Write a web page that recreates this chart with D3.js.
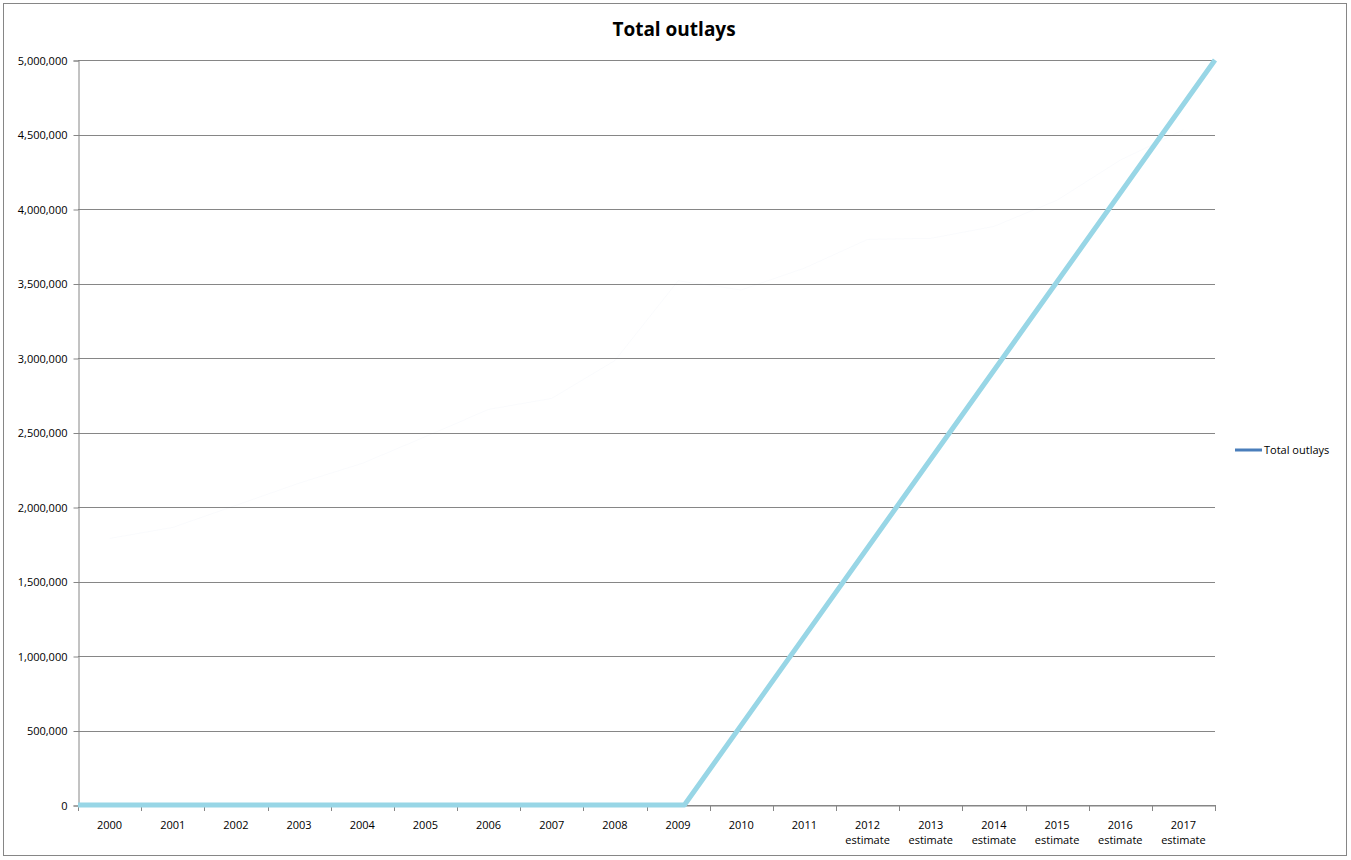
<!DOCTYPE html>
<html><head><meta charset="utf-8">
<script src="https://cdn.jsdelivr.net/npm/d3@7"></script>
<style>
body{margin:0;background:#fff;}
text{font-family:"Open Sans","DejaVu Sans",sans-serif;}
</style></head>
<body><svg id="c" width="1351" height="860"></svg>
<script>
const categories = ["2000","2001","2002","2003","2004","2005","2006","2007","2008","2009","2010","2011","2012 estimate","2013 estimate","2014 estimate","2015 estimate","2016 estimate","2017 estimate"];
const outlays = [1789000,1863000,2011000,2160000,2293000,2472000,2655000,2729000,2983000,3518000,3457000,3603000,3796000,3803000,3883000,4059000,4328000,4531000];
const overlayPos = [0, 9.6, 18];
const overlayVal = [0, 0, 5000000];
const yTicks = [0,500000,1000000,1500000,2000000,2500000,3000000,3500000,4000000,4500000,5000000];
const title = "Total outlays";
const seriesName = "Total outlays";

const svg = d3.select("#c");
const L=78,R=1215,T=60,B=805;
svg.append("rect").attr("x",3.5).attr("y",3.5).attr("width",1343).attr("height",852).attr("fill","#fff").attr("stroke","#868686");
svg.append("text").attr("x",674).attr("y",36).attr("text-anchor","middle").attr("font-size",19).attr("font-weight","bold").text(title);

const x = d3.scaleBand().domain(categories).range([L,R]);
const xu = d3.scaleLinear().domain([0,categories.length]).range([L,R]);
const y = d3.scaleLinear().domain([0,5000000]).range([B,T]);

// gridlines
svg.append("g").selectAll("line").data(yTicks).join("line")
 .attr("x1",L).attr("x2",R).attr("y1",d=>Math.round(y(d))+0.5).attr("y2",d=>Math.round(y(d))+0.5)
 .attr("stroke","#868686").attr("stroke-width",1);

const yAxis = svg.append("g").attr("transform",`translate(${L+0.5},0.5)`)
 .call(d3.axisLeft(y).tickValues(yTicks).tickSize(5).tickPadding(6).tickFormat(d3.format(",")));
yAxis.select(".domain").attr("stroke","#868686");
yAxis.selectAll(".tick line").attr("stroke","#868686");
yAxis.selectAll("text").attr("font-size",11).attr("fill","#000").attr("font-family","'Open Sans',sans-serif");

const xAxis = svg.append("g").attr("transform",`translate(0.5,${B+0.5})`)
 .call(d3.axisBottom(x).tickSize(0).tickFormat(""));
xAxis.select(".domain").attr("stroke","#868686");
svg.append("g").selectAll("line").data(d3.range(categories.length+1)).join("line")
 .attr("x1",d=>Math.round(xu(d))+0.5).attr("x2",d=>Math.round(xu(d))+0.5).attr("y1",B).attr("y2",B+6)
 .attr("stroke","#868686");
const lab = svg.append("g").selectAll("text").data(categories).join("text")
 .attr("x",d=>x(d)+x.bandwidth()/2).attr("y",829).attr("text-anchor","middle").attr("font-size",11);
lab.each(function(d){
  const parts=d.split(" ");
  const t=d3.select(this);
  parts.forEach((p,i)=>t.append("tspan").attr("x",x(d)+x.bandwidth()/2).attr("dy",i?15:0).text(p));
});

// faint actual series (nearly invisible in the reference)
svg.append("path").datum(outlays)
 .attr("d",d3.line().x((d,i)=>x(categories[i])+x.bandwidth()/2).y(d=>y(d)))
 .attr("fill","none").attr("stroke","#4a7ebb").attr("stroke-width",0.5).attr("stroke-opacity",0.06);

// light overlay line
svg.append("path").datum(overlayPos.map((p,i)=>[p,overlayVal[i]]))
 .attr("d",d3.line().x(d=>xu(d[0])).y(d=>y(d[1])))
 .attr("fill","none").attr("stroke","#98d6e6").attr("stroke-width",5).attr("stroke-linejoin","round");

// legend
svg.append("line").attr("x1",1235).attr("x2",1262).attr("y1",450).attr("y2",450).attr("stroke","#4a7ebb").attr("stroke-width",3);
svg.append("text").attr("x",1264).attr("y",454).attr("font-size",11).text(seriesName);
</script></body></html>
